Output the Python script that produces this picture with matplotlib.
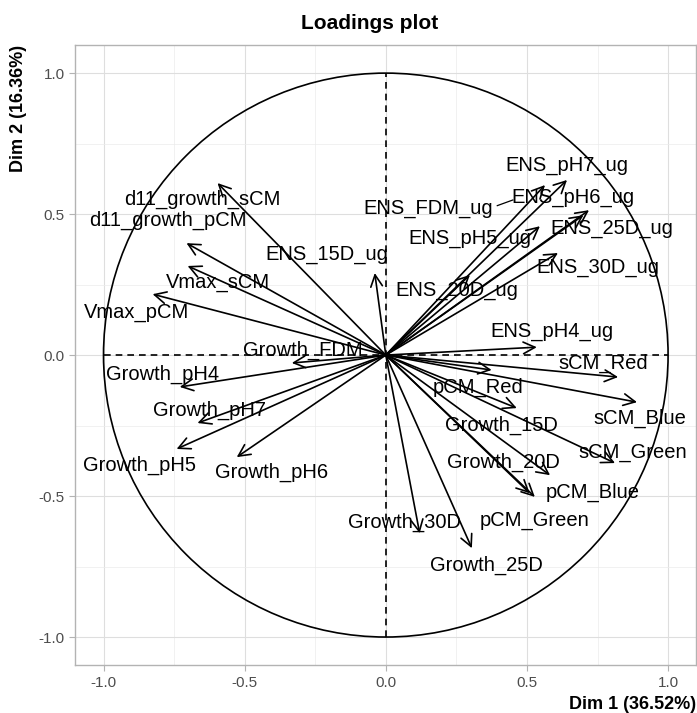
import numpy as np
import matplotlib
matplotlib.use("Agg")
import matplotlib.pyplot as plt
from matplotlib.patches import Circle

plt.rcParams['font.family'] = ['Liberation Sans', 'DejaVu Sans']

# loadings (Dim 1, Dim 2)
variables = ["d11_growth_sCM", "d11_growth_pCM", "Vmax_sCM", "Vmax_pCM", "ENS_15D_ug",
             "Growth_FDM", "Growth_pH4", "Growth_pH7", "Growth_pH5", "Growth_pH6",
             "ENS_pH7_ug", "ENS_FDM_ug", "ENS_pH6_ug", "ENS_25D_ug", "ENS_pH5_ug",
             "ENS_30D_ug", "ENS_20D_ug", "ENS_pH4_ug", "sCM_Red", "pCM_Red",
             "Growth_15D", "sCM_Blue", "sCM_Green", "Growth_20D", "pCM_Blue",
             "pCM_Green", "Growth_30D", "Growth_25D"]
dim1 = [-0.596, -0.706, -0.702, -0.826, -0.039,
        -0.333, -0.730, -0.667, -0.741, -0.528,
        0.642, 0.564, 0.720, 0.700, 0.546,
        0.610, 0.298, 0.535, 0.823, 0.375,
        0.464, 0.890, 0.812, 0.582, 0.528,
        0.510, 0.120, 0.305]
dim2 = [0.610, 0.397, 0.316, 0.216, 0.291,
        -0.028, -0.113, -0.241, -0.333, -0.362,
        0.621, 0.603, 0.514, 0.496, 0.457,
        0.362, 0.284, 0.028, -0.078, -0.053,
        -0.188, -0.167, -0.383, -0.426, -0.503,
        -0.490, -0.632, -0.685]

# label placement (repelled)
lab_x = [-0.649, -0.773, -0.596, -0.883, -0.209,
         -0.294, -0.791, -0.624, -0.872, -0.404,
         0.642, 0.149, 0.663, 0.801, 0.298,
         0.752, 0.252, 0.589, 0.770, 0.326,
         0.411, 0.901, 0.876, 0.415, 0.734,
         0.528, 0.067, 0.358]
lab_y = [0.553, 0.479, 0.259, 0.152, 0.358,
         0.018, -0.067, -0.195, -0.390, -0.415,
         0.674, 0.521, 0.560, 0.450, 0.415,
         0.309, 0.230, 0.082, -0.028, -0.113,
         -0.248, -0.223, -0.344, -0.379, -0.486,
         -0.585, -0.592, -0.745]

fig = plt.figure(figsize=(6.97, 7.13), dpi=100)
ax = fig.add_axes([0.108, 0.067, 0.891, 0.870])

ticks = [-1.0, -0.5, 0.0, 0.5, 1.0]
minor = [-0.75, -0.25, 0.25, 0.75]
ax.set_xlim(-1.1, 1.1)
ax.set_ylim(-1.1, 1.1)
ax.set_xticks(ticks)
ax.set_yticks(ticks)
ax.set_xticks(minor, minor=True)
ax.set_yticks(minor, minor=True)
ax.set_xticklabels(["%.1f" % t for t in ticks])
ax.set_yticklabels(["%.1f" % t for t in ticks])
ax.grid(which='major', color='#DEDEDE', lw=0.8)
ax.grid(which='minor', color='#EBEBEB', lw=0.5)
ax.set_axisbelow(True)
ax.tick_params(which='major', colors='#B3B3B3', length=4, width=0.8,
               labelcolor='#4D4D4D', labelsize=11)
ax.tick_params(which='minor', length=0)
for s in ax.spines.values():
    s.set_color('#B3B3B3')
    s.set_linewidth(1.0)

ax.add_patch(Circle((0, 0), 1.0, fill=False, color='black', lw=1.2))
ax.plot([-1, 1], [0, 0], color='black', ls=(0, (4, 3)), lw=1.2)
ax.plot([0, 0], [-1, 1], color='black', ls=(0, (4, 3)), lw=1.2)

for name, x, y, lx, ly in zip(variables, dim1, dim2, lab_x, lab_y):
    ax.annotate("", xy=(x, y), xytext=(0, 0),
                arrowprops=dict(arrowstyle="->,head_length=0.6,head_width=0.3",
                                color='black', lw=1.2, shrinkA=0, shrinkB=0,
                                mutation_scale=14))
    ax.text(lx, ly, name, ha='center', va='center', fontsize=14.5, color='black')

# repel segment for ENS_FDM_ug
ax.plot([0.395, 0.45], [0.530, 0.55], color='black', lw=0.9)

fig.text(0.53, 0.967, "Loadings plot", ha='center', va='center',
         fontsize=15, fontweight='bold')
fig.text(0.999, 0.012, "Dim 1 (36.52%)", ha='right', va='center',
         fontsize=13, fontweight='bold')
fig.text(0.026, 0.937, "Dim 2 (16.36%)", ha='center', va='top', rotation=90,
         fontsize=13, fontweight='bold')

fig.savefig("out.png", dpi=100)
